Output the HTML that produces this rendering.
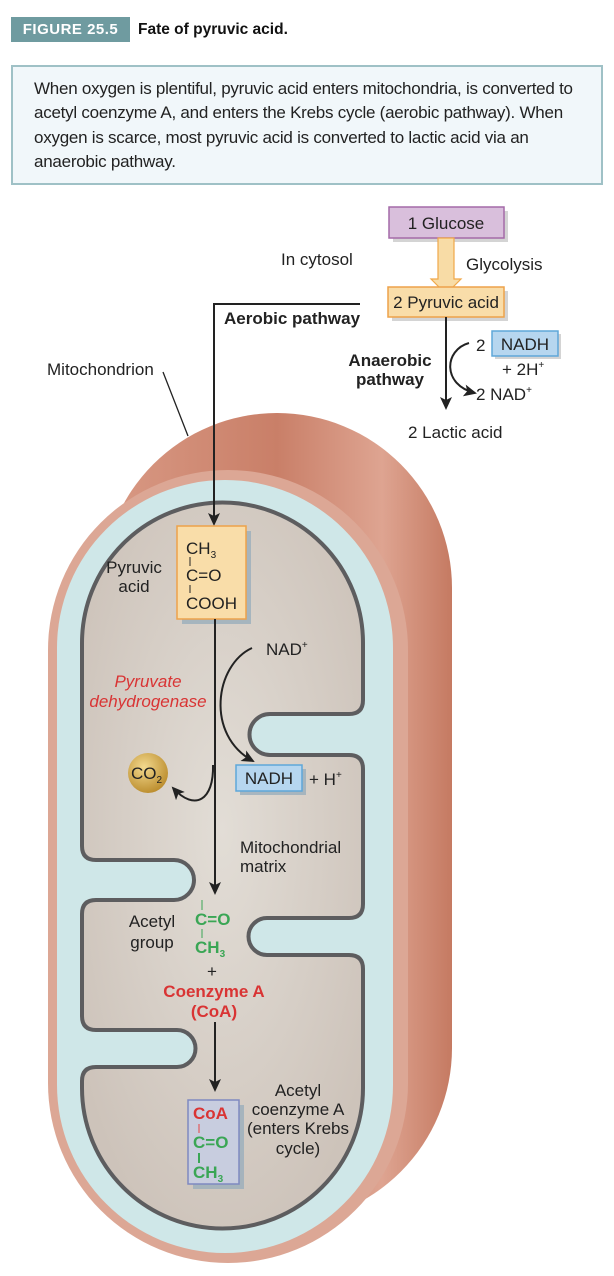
<!DOCTYPE html>
<html><head><meta charset="utf-8"><style>
html,body{margin:0;padding:0;background:#fff;}
body{width:614px;height:1276px;position:relative;overflow:hidden;font-family:"Liberation Sans",sans-serif;}
.fig{position:absolute;left:11px;top:17px;width:119px;height:25px;background:#6f9ba0;color:#fff;font-weight:bold;font-size:15px;line-height:25px;text-align:center;letter-spacing:0.5px;}
.title{position:absolute;left:138px;top:17px;line-height:25px;font-weight:bold;font-size:15.5px;color:#111;}
.cap{position:absolute;left:11px;top:65px;width:567px;height:106px;padding:10px 0 0 21px;background:#f1f7fa;border:2px solid #9fc1c6;font-size:17px;line-height:24.3px;color:#222;letter-spacing:-0.25px;white-space:nowrap;}
svg{position:absolute;left:0;top:0;}
svg text{font-size:17px;}
</style></head><body>
<div class="fig">FIGURE 25.5</div>
<div class="title">Fate of pyruvic acid.</div>
<div class="cap">When oxygen is plentiful, pyruvic acid enters mitochondria, is converted to<br>acetyl coenzyme A, and enters the Krebs cycle (aerobic pathway). When<br>oxygen is scarce, most pyruvic acid is converted to lactic acid via an<br>anaerobic pathway.</div>
<svg width="614" height="1276" viewBox="0 0 614 1276" font-family="Liberation Sans, sans-serif">
<defs>
<linearGradient id="red" x1="0" x2="1" y1="0" y2="0">
<stop offset="0" stop-color="#d99a85"/><stop offset="0.5" stop-color="#c97f68"/><stop offset="0.8" stop-color="#dea491"/><stop offset="1" stop-color="#c57a62"/>
</linearGradient>
<radialGradient id="tan" cx="0.5" cy="0.45" r="0.6"><stop offset="0" stop-color="#e2ddd6"/><stop offset="1" stop-color="#cdc3ba"/></radialGradient>
<radialGradient id="gold" cx="0.4" cy="0.35" r="0.7"><stop offset="0" stop-color="#f3d98e"/><stop offset="1" stop-color="#b98a2a"/></radialGradient>
<marker id="ah" markerWidth="13" markerHeight="12" refX="11" refY="6" orient="auto" markerUnits="userSpaceOnUse"><path d="M0,0 L13,6 L0,12 L3,6 Z" fill="#222"/></marker>
</defs>
<rect x="102" y="413" width="350" height="810" rx="175" fill="url(#red)"/>
<rect x="48" y="470" width="360" height="793" rx="180" fill="#dca795"/>
<rect x="57" y="480" width="336" height="773" rx="168" fill="#cfe7e8"/>
<path d="M82,643 A140.5,140.5 0 0 1 363,643 L363,700 Q363,714 349,714 L270,714 A20.5,20.5 0 0 0 270,755 L349,755 Q363,755 363,769 L363,904 Q363,918 349,918 L267,918 A18.5,18.5 0 0 0 267,955 L349,955 Q363,955 363,969 L363,1088 A140.5,140.5 0 0 1 82,1088 L82,1081 Q82,1067 96,1067 L177,1067 A18.5,18.5 0 0 0 177,1030 L96,1030 Q82,1030 82,1016 L82,914 Q82,900 96,900 L174,900 A20,20 0 0 0 174,860 L96,860 Q82,860 82,846 Z" fill="url(#tan)" stroke="#5d5d5f" stroke-width="4"/>
<text x="47" y="375" fill="#222">Mitochondrion</text>
<line x1="163" y1="372" x2="188" y2="436" stroke="#222" stroke-width="1.3"/>
<rect x="393" y="211" width="115" height="31" fill="#aaa" opacity="0.5"/>
<rect x="389" y="207" width="115" height="31" fill="#d9bfdc" stroke="#a46aa8" stroke-width="1.5"/>
<text x="446" y="229" text-anchor="middle" fill="#222">1 Glucose</text>
<path d="M438,238 L454,238 L454,279 L461,279 L446,294 L431,279 L438,279 Z" fill="#f8dca6" stroke="#f0a84a" stroke-width="1.2"/>
<rect x="392" y="291" width="116" height="30" fill="#aaa" opacity="0.5"/>
<rect x="388" y="287" width="116" height="30" fill="#f9dda9" stroke="#eda24a" stroke-width="1.5"/>
<text x="446" y="308" text-anchor="middle" fill="#222">2 Pyruvic acid</text>
<text x="281" y="265" fill="#222">In cytosol</text>
<text x="466" y="270" fill="#222">Glycolysis</text>
<polyline points="360,304 214,304 214,524" fill="none" stroke="#222" stroke-width="2" marker-end="url(#ah)"/>
<text x="224" y="324" font-weight="bold" fill="#222">Aerobic pathway</text>
<text x="390" y="366" font-weight="bold" fill="#222" text-anchor="middle">Anaerobic</text>
<text x="390" y="385" font-weight="bold" fill="#222" text-anchor="middle">pathway</text>
<line x1="446" y1="317" x2="446" y2="408" stroke="#222" stroke-width="2" marker-end="url(#ah)"/>
<path d="M469,343 C444,350 442,385 475,393" fill="none" stroke="#222" stroke-width="2" marker-end="url(#ah)"/>
<text x="476" y="351" fill="#222">2</text>
<rect x="495" y="334" width="66" height="25" fill="#aaa" opacity="0.5"/>
<rect x="492" y="331" width="66" height="25" fill="#b6d6ef" stroke="#5fa7d9" stroke-width="1.5"/>
<text x="525" y="350" text-anchor="middle" fill="#222">NADH</text>
<text x="502" y="375" fill="#222">+ 2H<tspan font-size="10" dy="-7">+</tspan></text>
<text x="476" y="400" fill="#222">2 NAD<tspan font-size="10" dy="-7">+</tspan></text>
<text x="408" y="438" fill="#222">2 Lactic acid</text>
<rect x="182" y="531" width="69" height="93" fill="#9aaebb" opacity="0.8"/>
<rect x="177" y="526" width="69" height="93" fill="#f9dda9" stroke="#eda24a" stroke-width="1.5"/>
<text x="186" y="554" fill="#222">CH<tspan font-size="10" dy="4">3</tspan></text>
<line x1="190" y1="557" x2="190" y2="566" stroke="#222" stroke-width="1"/>
<text x="186" y="581" fill="#222">C=O</text>
<line x1="190" y1="585" x2="190" y2="593" stroke="#222" stroke-width="1"/>
<text x="186" y="609" fill="#222">COOH</text>
<text x="134" y="573" fill="#222" text-anchor="middle">Pyruvic</text>
<text x="134" y="592" fill="#222" text-anchor="middle">acid</text>
<line x1="215" y1="619" x2="215" y2="893" stroke="#222" stroke-width="2" marker-end="url(#ah)"/>
<text x="266" y="655" fill="#222">NAD<tspan font-size="10" dy="-7">+</tspan></text>
<path d="M252,648 C215,665 205,735 253,761" fill="none" stroke="#222" stroke-width="2" marker-end="url(#ah)"/>
<text x="148" y="687" fill="#d93434" font-style="italic" text-anchor="middle">Pyruvate</text>
<text x="148" y="707" fill="#d93434" font-style="italic" text-anchor="middle">dehydrogenase</text>
<circle cx="148" cy="773" r="20" fill="url(#gold)"/>
<text x="131" y="779" fill="#222">CO<tspan font-size="10" dy="4">2</tspan></text>
<path d="M213,765 C214,800 195,812 173,788" fill="none" stroke="#222" stroke-width="2" marker-end="url(#ah)"/>
<rect x="240" y="769" width="66" height="26" fill="#9aaebb" opacity="0.8"/>
<rect x="236" y="765" width="66" height="26" fill="#b6d6ef" stroke="#5fa7d9" stroke-width="1.5"/>
<text x="269" y="784" text-anchor="middle" fill="#222">NADH</text>
<text x="309" y="785" fill="#222">+ H<tspan font-size="10" dy="-7">+</tspan></text>
<text x="240" y="853" fill="#222">Mitochondrial</text>
<text x="240" y="872" fill="#222">matrix</text>
<text x="152" y="927" fill="#222" text-anchor="middle">Acetyl</text>
<text x="152" y="948" fill="#222" text-anchor="middle">group</text>
<line x1="202" y1="900" x2="202" y2="910" stroke="#3aa655" stroke-width="1"/>
<text x="195" y="925" font-weight="bold" fill="#3aa655">C=O</text>
<line x1="202" y1="929" x2="202" y2="938" stroke="#3aa655" stroke-width="1"/>
<text x="195" y="953" font-weight="bold" fill="#3aa655">CH<tspan font-size="10" dy="4">3</tspan></text>
<text x="212" y="977" fill="#222" text-anchor="middle">+</text>
<text x="214" y="997" font-weight="bold" fill="#d93434" text-anchor="middle">Coenzyme A</text>
<text x="214" y="1017" font-weight="bold" fill="#d93434" text-anchor="middle">(CoA)</text>
<line x1="215" y1="1022" x2="215" y2="1090" stroke="#222" stroke-width="2" marker-end="url(#ah)"/>
<rect x="193" y="1105" width="51" height="84" fill="#9aaebb" opacity="0.8"/>
<rect x="188" y="1100" width="51" height="84" fill="#c8cddf" stroke="#7f89c0" stroke-width="1.5"/>
<text x="193" y="1119" font-weight="bold" fill="#d93434">CoA</text>
<line x1="199" y1="1124" x2="199" y2="1133" stroke="#e35b5b" stroke-width="1.2"/>
<text x="193" y="1148" font-weight="bold" fill="#3aa655">C=O</text>
<line x1="199" y1="1153" x2="199" y2="1163" stroke="#3aa655" stroke-width="2"/>
<text x="193" y="1178" font-weight="bold" fill="#3aa655">CH<tspan font-size="10" dy="4">3</tspan></text>
<text x="298" y="1096" fill="#222" text-anchor="middle">Acetyl</text>
<text x="298" y="1115" fill="#222" text-anchor="middle">coenzyme A</text>
<text x="298" y="1134" fill="#222" text-anchor="middle">(enters Krebs</text>
<text x="298" y="1154" fill="#222" text-anchor="middle">cycle)</text>
</svg>
</body></html>
